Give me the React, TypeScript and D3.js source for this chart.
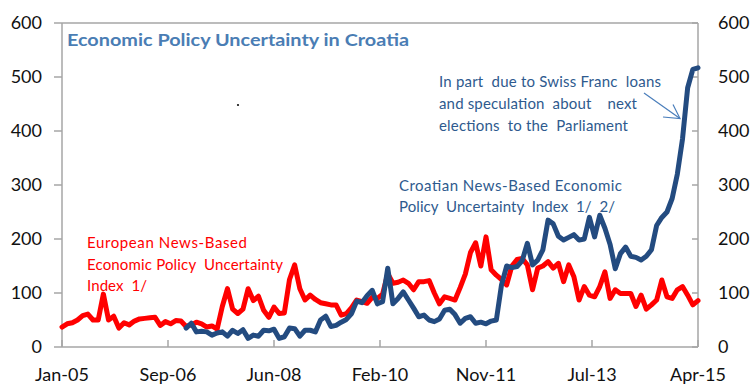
import React from "react";
import * as d3 from "d3";

const xTickLabels = ["Jan-05", "Sep-06", "Jun-08", "Feb-10", "Nov-11", "Jul-13", "Apr-15"];
const yTicks = [0, 100, 200, 300, 400, 500, 600];

// Monthly values Jan-05 .. Apr-15 (124 months)
const europeanEPU = [
  37, 43, 45, 50, 58, 61, 50, 50, 98, 50, 57, 35, 45, 41, 48, 52, 53, 54, 55, 40,
  47, 43, 49, 48, 38, 41, 46, 43, 37, 39, 33, 75, 108, 70, 62, 70, 108, 86, 94, 68,
  55, 74, 62, 63, 125, 152, 108, 87, 96, 88, 82, 80, 78, 78, 59, 62, 73, 87, 84, 81,
  92, 90, 98, 136, 118, 120, 124, 118, 106, 121, 121, 123, 100, 80, 93, 90, 87, 110, 135, 175,
  193, 150, 204, 143, 133, 125, 115, 150, 162, 164, 152, 106, 146, 150, 158, 146, 155, 121, 152, 130,
  87, 112, 96, 93, 112, 139, 90, 106, 99, 99, 99, 75, 96, 70, 78, 87, 124, 93, 90, 106,
  112, 96, 78, 86,
];

// Croatian index starts Jan-07 (month index 24)
const croatianStart = 24;
const croatianEPU = [
  35, 44, 28, 29, 28, 22, 26, 28, 20, 31, 25, 32, 16, 22, 20, 31, 30, 33, 16, 19,
  35, 34, 20, 31, 31, 28, 50, 57, 38, 40, 46, 51, 62, 85, 82, 95, 105, 80, 84, 146,
  80, 90, 102, 87, 72, 56, 59, 50, 47, 52, 68, 70, 60, 44, 53, 56, 44, 46, 43, 48,
  50, 115, 150, 147, 149, 160, 192, 152, 161, 180, 235, 228, 205, 198, 203, 208, 198, 200, 240, 204,
  244, 220, 190, 145, 173, 185, 168, 166, 161, 168, 180, 225, 240, 250, 275, 320, 385, 480, 514, 517,
];

const W = 752;
const H = 385;
const L = 62, R = 698, T = 23, B = 347;
const nMonths = europeanEPU.length;
const NB = "\u00a0";

export default function App() {
  const x = d3.scaleLinear().domain([0, nMonths - 1]).range([L, R]);
  const y = d3.scaleLinear().domain([0, 600]).range([B, T]);
  const line = d3
    .line<[number, number]>()
    .x((d) => x(d[0]))
    .y((d) => y(d[1]));
  const redPts: [number, number][] = europeanEPU.map((v, i) => [i, v]);
  const bluePts: [number, number][] = croatianEPU.map((v, i) => [i + croatianStart, v]);
  const tickPos = xTickLabels.map((_, k) => (k * (nMonths - 1)) / (xTickLabels.length - 1));
  const axisColor = "#a6a6a6";
  const font = "Lato, 'Open Sans', sans-serif";
  const blueText = "#2e5a8e";
  const sp = (s: string) => s.replace(/ {2}/g, " " + NB);

  return (
    <svg width={W} height={H} style={{ position: "absolute", left: 0, top: 0, background: "#fff" }} fontFamily={font}>
      <rect x={0} y={0} width={W} height={H} fill="#fff" />
      {/* frame */}
      <line x1={L} y1={T} x2={R} y2={T} stroke={axisColor} strokeWidth={1.5} />
      <line x1={L} y1={T} x2={L} y2={B} stroke={axisColor} strokeWidth={1.5} />
      <line x1={R} y1={T} x2={R} y2={B} stroke={axisColor} strokeWidth={1.5} />
      <line x1={L} y1={B} x2={R} y2={B} stroke={axisColor} strokeWidth={1.5} />
      {yTicks.map((t) => (
        <g key={"yl" + t}>
          <line x1={L - 8} x2={L} y1={y(t)} y2={y(t)} stroke={axisColor} strokeWidth={1.5} />
          <line x1={R - 6} x2={R} y1={y(t)} y2={y(t)} stroke={axisColor} strokeWidth={1.5} />
          <text x={42} y={y(t)} dy="0.36em" textAnchor="end" fontSize={18} fill="#111">
            {t}
          </text>
          <text x={718} y={y(t)} dy="0.36em" textAnchor="start" fontSize={18} fill="#111">
            {t}
          </text>
        </g>
      ))}
      {tickPos.map((p, k) => (
        <g key={"xt" + k}>
          <line x1={x(p)} x2={x(p)} y1={B} y2={B - 7} stroke={axisColor} strokeWidth={1.5} />
          <text x={x(p)} y={381} textAnchor="middle" fontSize={18} fill="#111">
            {xTickLabels[k]}
          </text>
        </g>
      ))}
      {/* series */}
      <path d={line(redPts) || ""} fill="none" stroke="#ff0000" strokeWidth={5} strokeLinejoin="round" strokeLinecap="round" />
      <path d={line(bluePts) || ""} fill="none" stroke="#234b80" strokeWidth={5} strokeLinejoin="round" strokeLinecap="round" />
      {/* title */}
      <text x={67} y={46} fontSize={17} fontWeight="bold" fill="#4a7db4" textLength={342} lengthAdjust="spacingAndGlyphs">
        Economic Policy Uncertainty in Croatia
      </text>
      <circle cx={238} cy={105} r={1.1} fill="#111" />
      {/* annotation */}
      <g fontSize={15} fill={blueText}>
        <text x={439} y={87} textLength={222} lengthAdjust="spacing">{sp("In part  due to Swiss Franc  loans")}</text>
        <text x={439} y={109} textLength={198} lengthAdjust="spacing">{sp("and speculation  about    next")}</text>
        <text x={439} y={131} textLength={189} lengthAdjust="spacing">{sp("elections  to the  Parliament")}</text>
        <text x={399} y={191} textLength={223} lengthAdjust="spacing">{"Croatian News-Based Economic"}</text>
        <text x={399} y={212} textLength={216} lengthAdjust="spacing">{sp("Policy  Uncertainty  Index  1/  2/")}</text>
      </g>
      <g stroke="#4a7ebb" strokeWidth={1.2} fill="none">
        <line x1={644} y1={93} x2={680} y2={118.5} />
        <path d="M673,104.5 L680,118.5 L663,117" />
      </g>
      <g fontSize={15} fill="#ff0000">
        <text x={87} y={248} textLength={160} lengthAdjust="spacing">{"European News-Based"}</text>
        <text x={87} y={270} textLength={196} lengthAdjust="spacing">{sp("Economic Policy  Uncertainty")}</text>
        <text x={87} y={291} textLength={60} lengthAdjust="spacing">{sp("Index  1/")}</text>
      </g>
    </svg>
  );
}
